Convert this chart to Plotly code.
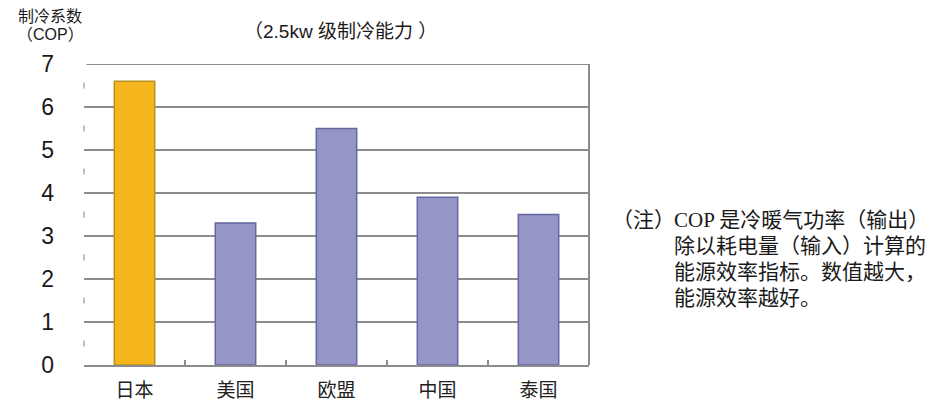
import plotly.graph_objects as go

categories = ["日本", "美国", "欧盟", "中国", "泰国"]
cop_values = [6.6, 3.3, 5.5, 3.9, 3.5]
bar_colors = ["#F5B51C", "#9595C8", "#9595C8", "#9595C8", "#9595C8"]
bar_lines = ["#B8921E", "#6666A0", "#6666A0", "#6666A0", "#6666A0"]
y_ticks = [0, 1, 2, 3, 4, 5, 6, 7]
note_lines = ["除以耗电量（输入）计算的", "能源效率指标。数值越大，", "能源效率越好。"]

W, H = 941, 403
L, R, T, B = 84, 941 - 589, 64, 403 - 365
PW, PH = W - L - R, H - T - B


def px(x):
    return (x - L) / PW


def py(y):
    return (H - B - y) / PH


fig = go.Figure()
fig.add_trace(go.Bar(
    x=categories, y=cop_values, width=0.4,
    marker=dict(color=bar_colors, line=dict(color=bar_lines, width=1.5)),
    hoverinfo="skip",
))

fig.update_layout(
    width=W, height=H, margin=dict(l=L, r=R, t=T, b=B),
    paper_bgcolor="white", plot_bgcolor="white", showlegend=False,
    font=dict(family="Liberation Sans, Noto Sans CJK SC", color="#1a1a1a"),
    xaxis=dict(
        showgrid=False, showline=True, linecolor="#8c8c8c", linewidth=2,
        ticks="inside", tickson="boundaries", ticklen=5, tickcolor="#8c8c8c", tickwidth=1.5,
        tickfont=dict(family="Noto Sans CJK SC", size=19, color="#222"),
        ticklabelstandoff=7, automargin=False,
        range=[-0.5, 4.5], fixedrange=True,
    ),
    yaxis=dict(
        range=[0, 7], tickvals=y_ticks, showgrid=True, gridcolor="#8c8c8c", gridwidth=1.8,
        zeroline=False, showline=False, ticks="",
        tickfont=dict(family="Liberation Sans", size=23, color="#1a1a1a"),
        ticklabelstandoff=29, automargin=False, fixedrange=True,
    ),
)

# frame: top and right borders
fig.add_shape(type="line", xref="paper", yref="y", x0=0.005, x1=1, y0=7, y1=7,
              line=dict(color="#8c8c8c", width=2))
fig.add_shape(type="line", xref="paper", yref="y", x0=1, x1=1, y0=0, y1=7,
              line=dict(color="#8c8c8c", width=2))
# faint dashed left edge
fig.add_shape(type="line", xref="paper", yref="y", x0=0, x1=0, y0=0, y1=7,
              line=dict(color="#c0c0c0", width=2, dash="0px,18.5px,6px,18.5px"))

# y-axis title
title_font = dict(family="Liberation Sans, Noto Sans CJK SC", size=16, color="#1a1a1a")
fig.add_annotation(xref="paper", yref="paper", x=px(50), y=py(17), text="制冷系数",
                   showarrow=False, xanchor="center", yanchor="middle", font=title_font)
fig.add_annotation(xref="paper", yref="paper", x=px(50), y=py(34), text="（COP）",
                   showarrow=False, xanchor="center", yanchor="middle", font=title_font)
# subtitle
fig.add_annotation(xref="paper", yref="paper", x=px(340), y=py(31), text="（2.5kw 级制冷能力 ）",
                   showarrow=False, xanchor="center", yanchor="middle",
                   font=dict(family="Liberation Sans, Noto Sans CJK SC", size=19, color="#1a1a1a"))

# note
note_font = dict(family="Liberation Serif, Noto Sans CJK SC", size=21, color="#1a1a1a")
fig.add_annotation(xref="paper", yref="paper", x=px(643), y=py(220), text="（注）",
                   showarrow=False, xanchor="center", yanchor="middle", font=note_font)
fig.add_annotation(xref="paper", yref="paper", x=px(672), y=py(220), text="COP 是冷暖气功率（输出）",
                   showarrow=False, xanchor="left", yanchor="middle", font=note_font)
for i, line in enumerate(note_lines):
    fig.add_annotation(xref="paper", yref="paper", x=px(672), y=py(246 + 26 * i), text=line,
                       showarrow=False, xanchor="left", yanchor="middle", font=note_font)

fig.write_html("out.html")
